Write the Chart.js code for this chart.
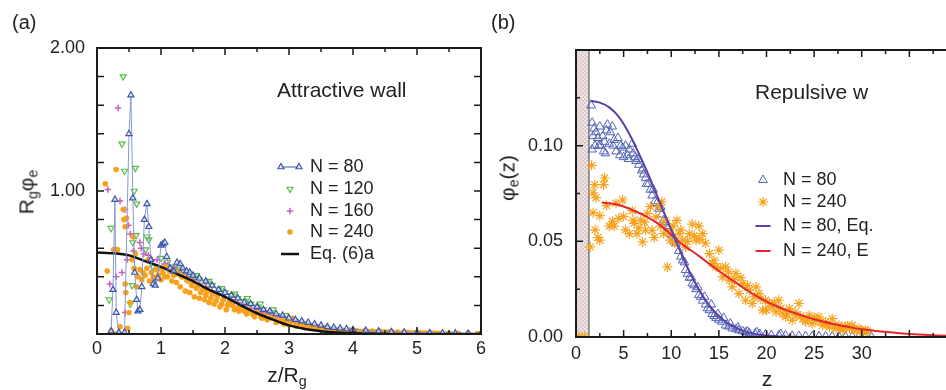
<!DOCTYPE html>
<html>
<head>
<meta charset="utf-8">
<script src="https://cdn.jsdelivr.net/npm/chart.js"></script>
<style>
html, body { margin: 0; padding: 0; width: 946px; height: 390px; overflow: hidden; background: #fff; }
body { position: relative; font-family: "Liberation Sans", Arial, sans-serif; color: #222; }
#wrapA { position: absolute; left: 0; top: 0; }
#wrapB { position: absolute; left: 476px; top: 0; }
.lbl { position: absolute; white-space: nowrap; font-size: 21px; line-height: 1; z-index: 2; }
.ytitle { transform: translate(-50%, -50%) rotate(-90deg); }
.xtitle { transform: translateX(-50%); }
sub { font-size: 0.68em; vertical-align: -0.3em; line-height: 0; }
</style>
</head>
<body>
<div id="wrapA"><canvas id="chartA" width="490" height="390"></canvas></div>
<div id="wrapB"><canvas id="chartB" width="500" height="390"></canvas></div>

<div class="lbl" style="left:12px;top:12px;font-size:20px">(a)</div>
<div class="lbl" style="left:491px;top:12px;font-size:20px">(b)</div>
<div class="lbl ytitle" style="left:26px;top:192px">R<sub>g</sub>φ<sub>e</sub></div>
<div class="lbl xtitle" style="left:287px;top:364px">z/R<sub>g</sub></div>
<div class="lbl ytitle" style="left:507px;top:178px">φ<sub>e</sub>(z)</div>
<div class="lbl xtitle" style="left:767px;top:368px">z</div>

<script>
// ---- panel (a): attractive wall, x = z/Rg, y = Rg*phi_e ----
const zA80 = [0.22,0.25,0.28,0.30,0.34,0.43,0.50,0.53,0.56,0.59,0.62,0.64,0.67,0.70,0.74,0.78,0.81,0.84,0.88,0.91,0.95,1.00,1.03,1.06,1.09,1.14,1.20,1.25,1.30,1.34,1.40,1.45,1.50,1.60,1.70,1.80,1.90,2.00,2.10,2.20,2.30,2.40,2.50,2.60,2.70,2.80,2.90,3.00,3.10,3.20,3.30,3.40,3.50,3.60,3.70,3.80,3.90,4.00,4.20,4.40,4.60,4.80,5.00,5.20,5.40,5.60,5.80,6.00];
const phiA80 = [0.02,0.31,0.94,0.15,0.01,0.01,1.40,1.67,0.95,0.43,0.24,0.16,0.17,0.33,0.80,0.91,0.75,0.52,0.35,0.34,0.39,0.62,0.63,0.64,0.54,0.46,0.44,0.50,0.49,0.46,0.44,0.43,0.41,0.39,0.37,0.34,0.31,0.29,0.27,0.25,0.22,0.21,0.19,0.17,0.16,0.14,0.13,0.11,0.10,0.09,0.08,0.07,0.06,0.05,0.045,0.04,0.035,0.03,0.025,0.02,0.015,0.012,0.01,0.008,0.006,0.005,0.004,0.003];

const zA120 = [0.19,0.22,0.25,0.32,0.39,0.41,0.43,0.52,0.55,0.56,0.58,0.60,0.61,0.62,0.76,0.78,0.81,0.87,0.95,1.00,1.10,1.20,1.30,1.40,1.50,1.60,1.70,1.80,1.90,2.00,2.10,2.20,2.30,2.40,2.50,2.60,2.70,2.80,2.90,3.00,3.20,3.40,3.60,3.80,4.00,4.40,5.00,5.50,6.00,
  1.15,1.35,1.55,1.75,1.95,2.15,2.35,2.55,2.75,2.95,3.1,3.3,3.5,3.7,3.9];
const phiA120 = [0.24,0.74,0.00,0.00,1.33,1.80,1.14,0.21,0.34,0.64,1.00,1.16,0.69,0.91,0.59,0.68,0.66,0.47,0.45,0.53,0.50,0.46,0.45,0.42,0.40,0.38,0.36,0.34,0.31,0.29,0.27,0.25,0.23,0.21,0.19,0.17,0.15,0.13,0.11,0.09,0.07,0.05,0.035,0.025,0.015,0.008,0.004,0.002,0.001,
  0.47,0.44,0.41,0.37,0.32,0.28,0.25,0.21,0.17,0.13,0.09,0.06,0.04,0.03,0.02];

const zA160 = [0.17,0.20,0.30,0.33,0.36,0.39,0.44,0.44,0.47,0.49,0.52,0.57,0.67,0.69,0.73,0.80,0.86,0.94,1.05,1.20,1.40,1.60,1.80,2.00,2.20,2.40,2.60,2.80,3.00,3.20,3.40,3.60,3.80,4.00,4.40,4.80,5.20,5.60,6.00,
  1.1,1.3,1.5,1.7,1.9,2.1,2.3,2.5,2.7,2.9,3.1,3.3,3.5,3.7];
const phiA160 = [1.01,0.35,0.40,1.58,0.93,0.43,0.87,0.15,0.52,0.76,0.70,0.58,0.64,0.60,0.56,0.55,0.52,0.52,0.49,0.46,0.40,0.35,0.30,0.25,0.22,0.18,0.15,0.12,0.09,0.07,0.05,0.035,0.025,0.02,0.012,0.008,0.005,0.003,0.002,
  0.48,0.43,0.38,0.33,0.28,0.24,0.20,0.17,0.14,0.11,0.08,0.06,0.04,0.03];

const zA240 = [0.13,0.16,0.22,0.24,0.26,0.30,0.32,0.36,0.41,0.42,
  0.44,0.44,0.45,0.46,0.48,0.50,0.52,0.55,0.56,0.58,
  0.60,0.62,0.64,0.67,0.70,0.72,0.75,0.78,0.80,0.82,
  0.85,0.88,0.90,0.93,0.96,1.00,1.03,1.06,1.10,1.13,
  1.17,1.20,1.24,1.27,1.30,1.35,1.38,1.42,1.45,1.50,
  1.52,1.57,1.60,1.65,1.68,1.72,1.75,1.80,1.83,1.88,
  1.92,1.97,2.02,2.06,2.12,2.18,2.25,2.30,2.37,2.43,
  2.50,2.56,2.62,2.70,2.76,2.83,2.90,2.96,3.02,3.05,
  3.10,3.16,3.22,3.28,3.34,3.40,3.46,3.52,3.58,3.64,
  3.70,3.76,3.82,3.88,3.94,4.00,4.06,4.12,4.18,4.24,
  4.30,4.36,4.42,4.48,4.55,4.62,4.70,4.78,4.86,4.95,
  5.05,5.15,5.25,5.35,5.50,5.65,5.80,5.95,
  1.02,1.08,1.15,1.22,1.32,1.40,1.48,1.55,1.62,1.70,
  1.78,1.86,1.95,2.04,2.15,2.22,2.34,2.46,2.58,2.66,
  2.80,2.92,3.00,3.12,3.25,3.38,3.50,3.62,3.75,3.90,
  4.03,4.15,4.27,4.40,4.52,4.65,4.80,4.92,5.10,5.30];
const phiA240 = [1.05,0.44,0.02,0.01,0.59,1.15,0.59,0.05,0.87,0.80,
  0.75,0.35,0.29,0.81,0.04,0.15,0.22,0.52,0.68,0.46,
  0.56,0.33,0.40,0.45,0.38,0.43,0.41,0.46,0.52,0.37,
  0.43,0.40,0.39,0.45,0.41,0.38,0.43,0.40,0.40,0.44,
  0.37,0.41,0.36,0.42,0.33,0.40,0.30,0.37,0.29,0.36,
  0.26,0.33,0.25,0.31,0.24,0.30,0.22,0.28,0.21,0.26,
  0.19,0.24,0.17,0.22,0.20,0.18,0.19,0.16,0.17,0.14,
  0.15,0.12,0.13,0.11,0.12,0.09,0.10,0.08,0.09,0.11,
  0.07,0.075,0.06,0.065,0.05,0.055,0.045,0.04,0.045,0.03,
  0.035,0.025,0.03,0.022,0.028,0.02,0.025,0.018,0.022,0.017,
  0.02,0.016,0.019,0.014,0.016,0.012,0.014,0.01,0.012,0.009,
  0.008,0.007,0.006,0.005,0.004,0.004,0.003,0.003,
  0.46,0.47,0.45,0.44,0.40,0.38,0.34,0.32,0.29,0.27,
  0.25,0.23,0.21,0.20,0.17,0.16,0.14,0.12,0.11,0.10,
  0.08,0.07,0.065,0.055,0.045,0.04,0.035,0.028,0.025,0.02,
  0.018,0.015,0.014,0.012,0.011,0.009,0.008,0.007,0.006,0.005];

const zEqA = [0,0.25,0.5,0.75,1.0,1.25,1.5,1.75,2.0,2.25,2.5,2.75,3.0,3.25,3.5,3.75,4.0,4.5,5.0,6.0];
const phiEqA = [0.57,0.565,0.55,0.51,0.47,0.42,0.37,0.31,0.26,0.20,0.145,0.10,0.06,0.035,0.02,0.01,0.005,0.002,0.001,0];

const xLabelsA = [0,1,2,3,4,5,6];
const yLabelsA = [1,2];
const xTicksA = [0.5,1,1.5,2,2.5,3,3.5,4,4.5,5,5.5];
const yTicksA = [0.2,0.4,0.6,0.8,1.0,1.2,1.4,1.6,1.8];

// ---- panel (b): repulsive wall, x = z, y = phi_e(z) ----
const zB80 = [1.6,1.7,1.8,1.9,2.0,2.1,2.3,2.5,2.6,2.8, 2.9,3.0,3.2,3.3,3.5,3.6,3.8,4.0,4.2,4.4,
  4.6,4.9,5.0,5.2,5.4,5.6,5.9,6.0,6.2,6.3, 6.6,6.9,7.1,7.3,7.6,7.8,8.0,8.3,8.5,8.7,
  9.0,9.2,9.4,9.7,9.9,10.1,10.3,10.5,10.8,11.0, 11.2,11.5,11.7,11.9,12.2,12.4,12.6,12.9,13.1,13.3,
  13.6,13.8,14.0,14.3,14.5,14.7,15.0,15.3,15.7,16.0, 16.4,16.8,17.1,17.5,17.8,18.2,18.8,19.3,19.9,20.5,
  21.3,22.0,22.7,23.4,24.1,24.8,25.5,26.2,26.9,27.6, 28.3,29.0,29.7,30.4,31.0,
  1.7,2.4,3.1,3.9,4.7, 5.5,6.5,7.0,7.4,8.1, 8.9,9.6,10.4,11.4,12.1, 12.8,13.5,14.2,14.9,15.5, 16.2,17.0,18.0,19.0,21.5];
const phiB80 = [0.121,0.112,0.105,0.109,0.100,0.107,0.104,0.110,0.100,0.105, 0.097,0.102,0.108,0.111,0.101,0.107,0.110,0.103,0.097,0.104,
  0.095,0.099,0.094,0.100,0.095,0.098,0.101,0.096,0.094,0.092, 0.090,0.087,0.085,0.083,0.080,0.077,0.074,0.071,0.070,0.067,
  0.064,0.061,0.060,0.057,0.054,0.053,0.050,0.049,0.045,0.042, 0.040,0.035,0.033,0.031,0.028,0.027,0.025,0.022,0.021,0.019,
  0.017,0.015,0.014,0.012,0.011,0.010,0.009,0.008,0.006,0.0055, 0.0045,0.004,0.0035,0.003,0.0025,0.002,0.0018,0.0015,0.0013,0.001,
  0.0009,0.0008,0.0006,0.0005,0.0005,0.0004,0.0004,0.0003,0.0003,0.0003, 0.0002,0.0002,0.0002,0.0002,0.0001,
  0.098,0.100,0.096,0.100,0.100, 0.093,0.093,0.088,0.080,0.077, 0.068,0.058,0.051,0.039,0.031, 0.026,0.021,0.017,0.012,0.010, 0.007,0.005,0.003,0.0025,0.0016];

const zB240 = [1.64,1.96,1.8,2.1,3.0,2.9,2.0,2.3,2.5,1.5, 1.8,2.5,3.2,3.5,3.85,4.2,4.5,4.9,5.2,5.6,
  5.9,6.1,6.4,6.8,7.0,7.3,7.5,7.8,8.0,8.4, 8.7,9.0,9.2,9.4,9.6,9.9,10.2,10.6,10.8,11.2,
  11.5,11.9,12.2,12.6,12.9,13.3,13.6,14.0,14.3,14.7, 15.0,15.4,15.7,16.1,16.4,16.8,17.1,17.5,17.8,18.2,
  18.5,18.9,19.2,19.6,19.9,20.3,20.6,21.0,21.3,21.7, 22.0,22.4,22.7,23.1,23.4,23.8,24.1,24.5,24.8,25.2,
  25.5,25.9,26.2,26.6,26.9,27.3,27.6,28.0,28.3,28.7, 29.0,29.4,29.7,30.1,30.4, 0.3,0.9,
  4.0,5.0,6.0,6.6,7.2,8.2,8.9,9.8,10.4,11.0, 11.7,12.4,13.0,14.5,15.2,16.0,16.6,17.3,18.0,18.7,
  19.4,20.0,20.8,21.5,22.2,23.0,23.6,24.3,25.0,25.7, 26.4,27.1,27.8,28.5,29.2,29.9,30.6];
const phiB240 = [0.0897,0.0796,0.0754,0.0728,0.0831,0.0796,0.056,0.052,0.0506,0.0471, 0.065,0.0634,0.0687,0.058,0.0605,0.0699,0.062,0.0716,0.056,0.054,
  0.066,0.0594,0.054,0.0611,0.0497,0.0558,0.0646,0.0681,0.0558,0.0628, 0.068,0.0707,0.054,0.061,0.0366,0.0506,0.058,0.061,0.054,0.0506,
  0.047,0.054,0.059,0.0506,0.058,0.054,0.049,0.0436,0.0384,0.0367, 0.0454,0.0314,0.0367,0.0297,0.0262,0.0332,0.0227,0.0279,0.0192,0.0244,
  0.0175,0.0262,0.0227,0.014,0.0192,0.0175,0.0157,0.0131,0.0192,0.0122, 0.0105,0.0149,0.0087,0.0113,0.0175,0.0096,0.0079,0.0113,0.007,0.0087,
  0.0105,0.0061,0.0079,0.0052,0.0096,0.0044,0.0061,0.0035,0.0052,0.0044, 0.0061,0.0035,0.0044,0.0026,0.0035, 0.0003,0.0003,
  0.058,0.063,0.061,0.057,0.060,0.052,0.058,0.055,0.049,0.056, 0.050,0.053,0.051,0.040,0.036,0.034,0.030,0.031,0.027,0.021,
  0.020,0.014,0.018,0.015,0.012,0.013,0.011,0.009,0.010,0.008, 0.0065,0.006,0.005,0.0058,0.004,0.0035,0.003];

const zEq80 = [1.5,2.5,3.5,4.5,5.5,6.5,7.5,8.5,9.5,10.5,11.5,12.5,13.5,14.5,15.5,16.5,17.5,18.5,19.5,21,23,25,28,31];
const phiEq80 = [0.1235,0.1225,0.1200,0.1150,0.1070,0.0970,0.0860,0.0740,0.0620,0.0500,0.0385,0.0285,0.0200,0.0135,0.0088,0.0055,0.0033,0.0019,0.0010,0.0004,0.0001,0,0,0];

const zEq240 = [2.7,4,5,6,7,8,9,10,11,12,13,14,15,16,17,18,19,20,21,22,23,24,25,26,27,28,29,30,31,32,34,36,38,40];
const phiEq240 = [0.0703,0.0695,0.0682,0.0662,0.0640,0.0612,0.0578,0.0535,0.0490,0.0455,0.0420,0.0382,0.0345,0.0310,0.0276,0.0243,0.0212,0.0185,0.0162,0.0142,0.0124,0.0108,0.0093,0.0080,0.0068,0.0058,0.0049,0.0041,0.0035,0.0029,0.0020,0.0013,0.0008,0.0005];

const wallEnd = 1.36;
const xLabelsB = [0,5,10,15,20,25,30];
const yLabelsB = [0,0.05,0.10];
const xTicksB = [2.5,5,7.5,10,12.5,15,17.5,20,22.5,25,27.5,30,32.5,35,37.5];
const yTicksB = [0.025,0.05,0.075,0.1,0.125];

const FONT = '"Liberation Sans", Arial, sans-serif';
Chart.defaults.font.family = FONT;
Chart.defaults.color = '#222';

const pts = (xs, ys) => xs.map((v, i) => ({x: v, y: ys[i]}));

// inward ticks on all four sides + frame
const frame = {
  id: 'frame',
  afterDatasetsDraw(chart, args, o) {
    const {ctx, chartArea: a, scales: {x, y}} = chart;
    const isMajor = (v, step) => Math.abs(v / step - Math.round(v / step)) < 1e-6;
    ctx.save();
    ctx.strokeStyle = '#1a1a1a';
    ctx.lineWidth = 1.5;
    ctx.beginPath();
    o.xTicks.forEach(v => {
      const p = x.getPixelForValue(v);
      const len = isMajor(v, o.xMajor) ? o.major : o.minor;
      ctx.moveTo(p, a.bottom); ctx.lineTo(p, a.bottom - len);
      ctx.moveTo(p, a.top); ctx.lineTo(p, a.top + len);
    });
    o.yTicks.forEach(v => {
      const p = y.getPixelForValue(v);
      const len = isMajor(v, o.yMajor) ? o.major : o.minor;
      ctx.moveTo(a.left, p); ctx.lineTo(a.left + len, p);
      ctx.moveTo(a.right, p); ctx.lineTo(a.right - len, p);
    });
    ctx.stroke();
    ctx.lineWidth = 2;
    ctx.strokeRect(a.left, a.top, a.right - a.left, a.bottom - a.top);
    ctx.restore();
  }
};

// hatched wall in panel (b)
const wall = {
  id: 'wall',
  beforeDatasetsDraw(chart, args, o) {
    if (!o.end) return;
    const {ctx, chartArea: a, scales: {x}} = chart;
    const x0 = x.getPixelForValue(0), x1 = x.getPixelForValue(o.end);
    const pc = document.createElement('canvas');
    pc.width = 4; pc.height = 4;
    const p = pc.getContext('2d');
    p.fillStyle = '#dccaca'; p.fillRect(0, 0, 4, 4);
    p.fillStyle = '#efe5e5'; p.fillRect(0, 0, 2, 2); p.fillRect(2, 2, 2, 2);
    ctx.save();
    ctx.fillStyle = ctx.createPattern(pc, 'repeat');
    ctx.fillRect(x0, a.top, x1 - x0, a.bottom - a.top);
    ctx.strokeStyle = '#777';
    ctx.lineWidth = 1.5;
    ctx.beginPath(); ctx.moveTo(x1, a.top); ctx.lineTo(x1, a.bottom); ctx.stroke();
    ctx.restore();
  }
};

// in-plot note and legend
const overlay = {
  id: 'overlay',
  afterDraw(chart, args, o) {
    const {ctx, chartArea: a} = chart;
    ctx.save();
    ctx.textBaseline = 'middle';
    ctx.fillStyle = '#222';
    ctx.font = '21px ' + FONT;
    ctx.fillText(o.note, a.left + o.noteX, a.top + o.noteY);
    ctx.font = '18px ' + FONT;
    o.items.forEach((idx, k) => {
      const ds = chart.data.datasets[idx];
      const cy = a.top + o.rows[k];
      const cx = a.left + o.markX;
      if (ds.showLine) {
        ctx.strokeStyle = ds.legendLine || ds.borderColor;
        ctx.lineWidth = ds.borderWidth;
        ctx.beginPath(); ctx.moveTo(cx - o.lineHalf, cy); ctx.lineTo(cx + o.lineHalf, cy); ctx.stroke();
      }
      if (ds.pointRadius > 0) {
        const xs = ds.showLine ? [cx - o.lineHalf, cx + o.lineHalf] : [cx];
        ctx.strokeStyle = ds.pointBorderColor;
        ctx.fillStyle = ds.pointBackgroundColor;
        ctx.lineWidth = ds.pointBorderWidth;
        xs.forEach(px => Chart.helpers.drawPoint(ctx, {
          pointStyle: ds.pointStyle, rotation: ds.pointRotation || 0,
          radius: ds.pointRadius, borderWidth: ds.pointBorderWidth
        }, px, cy));
      }
      ctx.fillStyle = '#222';
      ctx.fillText(ds.label, a.left + o.textX, cy);
    });
    ctx.restore();
  }
};

function axis(min, max, labels, fmt, pad, size, horiz) {
  return {
    type: 'linear', min: min, max: max,
    grid: { display: false, drawTicks: false },
    border: { display: false },
    ticks: { font: { size: 18 }, color: '#222', padding: pad, autoSkip: false, maxRotation: 0, callback: fmt },
    afterBuildTicks: s => { s.ticks = labels.map(v => ({ value: v })); },
    afterFit: s => { if (horiz) s.height = size; else s.width = size; }
  };
}

new Chart(document.getElementById('chartA'), {
  type: 'scatter',
  data: {
    datasets: [
      { label: 'N = 80', data: pts(zA80, phiA80), showLine: true, borderColor: '#8797d6', legendLine: '#3a53ad', borderWidth: 1,
        pointStyle: 'triangle', pointRadius: 3.5, pointBorderColor: '#3a53ad', pointBackgroundColor: 'rgba(255,255,255,0.5)', pointBorderWidth: 1.2, order: 0 },
      { label: 'N = 120', data: pts(zA120, phiA120), showLine: false, pointStyle: 'triangle', pointRotation: 180, pointRadius: 3.5,
        pointBorderColor: '#5cba45', pointBackgroundColor: 'rgba(255,255,255,0)', pointBorderWidth: 1.2, order: 4 },
      { label: 'N = 160', data: pts(zA160, phiA160), showLine: false, pointStyle: 'cross', pointRadius: 3.2,
        pointBorderColor: '#c45fba', pointBackgroundColor: '#c45fba', pointBorderWidth: 1.5, order: 3 },
      { label: 'N = 240', data: pts(zA240, phiA240), showLine: false, pointStyle: 'circle', pointRadius: 2.8,
        pointBorderColor: '#f9a11b', pointBackgroundColor: '#f9a11b', pointBorderWidth: 0, order: 2 },
      { label: 'Eq. (6)a', data: pts(zEqA, phiEqA), showLine: true, borderColor: '#111', borderWidth: 2.5, pointRadius: 0, tension: 0.3, order: 1 }
    ]
  },
  options: {
    responsive: false, animation: false, events: [],
    layout: { padding: { top: 48, right: 9, left: 0, bottom: 0 } },
    scales: {
      x: axis(0, 6, xLabelsA, v => String(v), 4, 56, true),
      y: axis(0, 2, yLabelsA, v => v.toFixed(2), 12, 97, false)
    },
    plugins: {
      legend: { display: false }, tooltip: { enabled: false },
      frame: { xTicks: xTicksA, yTicks: yTicksA, xMajor: 1, yMajor: 0.2, major: 7, minor: 4 },
      overlay: { note: 'Attractive wall', noteX: 180, noteY: 43, items: [0, 1, 2, 3, 4],
        markX: 193, textX: 213, rows: [119, 141, 163, 184, 206], lineHalf: 9 }
    }
  },
  plugins: [frame, overlay]
});

new Chart(document.getElementById('chartB'), {
  type: 'scatter',
  data: {
    datasets: [
      { label: 'N = 80', data: pts(zB80, phiB80), showLine: false, pointStyle: 'triangle', pointRadius: 5,
        pointBorderColor: '#5263b8', pointBackgroundColor: 'rgba(255,255,255,0)', pointBorderWidth: 1, order: 3 },
      { label: 'N = 240', data: pts(zB240, phiB240), showLine: false, pointStyle: 'star', pointRadius: 5,
        pointBorderColor: '#f7a21c', pointBackgroundColor: '#f7a21c', pointBorderWidth: 1.2, order: 2 },
      { label: 'N = 80, Eq.', data: pts(zEq80, phiEq80), showLine: true, borderColor: '#5e3fa3', borderWidth: 2, pointRadius: 0, tension: 0.3, order: 0 },
      { label: 'N = 240, E', data: pts(zEq240, phiEq240), showLine: true, borderColor: '#e5262b', borderWidth: 2, pointRadius: 0, tension: 0.3, order: 1 }
    ]
  },
  options: {
    responsive: false, animation: false, events: [],
    layout: { padding: { top: 50, right: 19, left: 0, bottom: 0 } },
    scales: {
      x: axis(0, 40, xLabelsB, v => String(v), 6, 53, true),
      y: axis(0, 0.15, yLabelsB, v => v.toFixed(2), 13, 100, false)
    },
    plugins: {
      legend: { display: false }, tooltip: { enabled: false },
      wall: { end: wallEnd },
      frame: { xTicks: xTicksB, yTicks: yTicksB, xMajor: 5, yMajor: 0.05, major: 7, minor: 4 },
      overlay: { note: 'Repulsive w', noteX: 179, noteY: 43, items: [0, 1, 2, 3],
        markX: 187, textX: 207, rows: [130, 152, 176, 201], lineHalf: 7.5 }
    }
  },
  plugins: [wall, frame, overlay]
});
</script>
</body>
</html>
